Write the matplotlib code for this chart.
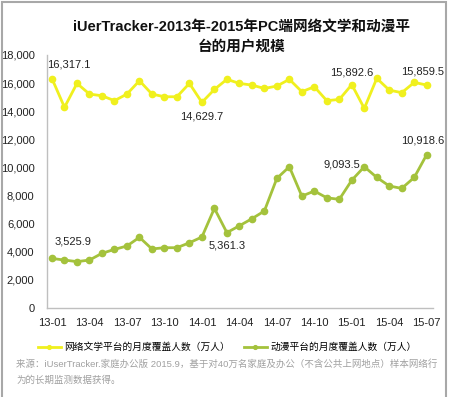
import matplotlib
matplotlib.use("Agg")
import matplotlib.pyplot as plt
from matplotlib.patches import Rectangle
from matplotlib.ticker import FuncFormatter

plt.rcParams['font.family'] = ['Liberation Sans', 'Noto Sans CJK SC', 'DejaVu Sans']

months = [f"{y}-{m:02d}" for y in (13, 14, 15) for m in range(1, 13)][:31]
tick_labels = ["13-01", "13-04", "13-07", "13-10", "14-01", "14-04",
               "14-07", "14-10", "15-01", "15-04", "15-07"]

literature = [16317.1, 14280, 15980, 15220, 15100, 14750, 15220, 16170, 15220, 15030,
              15030, 15980, 14629.7, 15550, 16270, 15980, 15860, 15620, 15790, 16270,
              15390, 15740, 14750, 14840, 15892.6, 14200, 16340, 15500, 15320, 16050,
              15859.5]
anime = [3525.9, 3410, 3300, 3410, 3890, 4170, 4410, 5030, 4200, 4290,
         4290, 4640, 5050, 7090, 5361.3, 5850, 6350, 6900, 9220, 10050,
         7960, 8320, 7840, 7730, 9093.5, 10050, 9290, 8680, 8510, 9290,
         10918.6]
lit_labels = {0: "16,317.1", 12: "14,629.7", 24: "15,892.6", 30: "15,859.5"}
anime_labels = {0: "3,525.9", 14: "5,361.3", 24: "9,093.5", 30: "10,918.6"}

series_names = ["网络文学平台的月度覆盖人数（万人）", "动漫平台的月度覆盖人数（万人）"]
title_text = "iUerTracker-2013年-2015年PC端网络文学和动漫平\n台的用户规模"
source_text = ("来源：iUserTracker.家庭办公版 2015.9，基于对40万名家庭及办公（不含公共上网地点）样本网络行\n"
               "为的长期监测数据获得。")

yellow = "#f0f01e"
green = "#a4c23c"

fig = plt.figure(figsize=(4.5, 3.97), dpi=100)
ax = fig.add_axes([47 / 450, 1 - 308 / 397, (433 - 47) / 450, (308 - 55) / 397])

x = list(range(len(literature)))
l1, = ax.plot(x, literature, color=yellow, lw=2.0, marker="o", ms=4.5,
              markeredgecolor=yellow, label=series_names[0])
l2, = ax.plot(x, anime, color=green, lw=2.0, marker="o", ms=4.5,
              markeredgecolor=green, label=series_names[1])

ax.set_xlim(-0.4, 30.5)
ax.set_ylim(0, 18000)
ax.set_yticks(range(0, 18001, 2000))
ax.yaxis.set_major_formatter(FuncFormatter(lambda v, p: f"{int(v):,}"))
ax.set_xticks([months.index(t) for t in tick_labels])
ax.set_xticklabels(tick_labels)
ax.tick_params(axis="both", length=0, labelsize=8, colors="#222222")
ax.tick_params(axis="y", pad=9)
ax.tick_params(axis="x", pad=7)
for s in ("top", "right"):
    ax.spines[s].set_visible(False)
for s in ("left", "bottom"):
    ax.spines[s].set_color("#bfbfbf")
    ax.spines[s].set_linewidth(1.0)

# data labels (offsets in points)
lit_off = {0: (12, 10), 12: (0, -10), 24: (0, 9), 30: (-3, 10)}
for i, txt in lit_labels.items():
    dx, dy = lit_off[i]
    ax.annotate(txt, (i, literature[i]), xytext=(dx, dy), textcoords="offset points",
                ha="center", va="center", fontsize=8, color="#222222")
anime_off = {0: (15, 12), 14: (0, -9), 24: (-7, 11), 30: (-3, 10)}
for i, txt in anime_labels.items():
    dx, dy = anime_off[i]
    ax.annotate(txt, (i, anime[i]), xytext=(dx, dy), textcoords="offset points",
                ha="center", va="center", fontsize=8, color="#222222")

fig.text(0.537, 1 - 37 / 397, title_text, ha="center", va="center", fontsize=10.5,
         fontweight="bold", linespacing=1.65, color="#111111")

fig.legend(handles=[l1, l2], labels=series_names, loc="center",
           bbox_to_anchor=(0.505, 1 - 347 / 397), ncol=2, frameon=False,
           fontsize=7, handlelength=2.4, columnspacing=1.4, handletextpad=0.35,
           markerscale=0.6)

fig.text(16 / 450, 1 - 372 / 397, source_text, ha="left", va="center", fontsize=6.8,
         color="#a0a0a0", linespacing=2.0)

fig.patches.append(Rectangle((2 / 450, -0.05), 444 / 450, 1.05 - 2 / 397,
                             transform=fig.transFigure, fill=False,
                             edgecolor="#a8a8a8", lw=1.5))

fig.savefig("out.png", dpi=100)
